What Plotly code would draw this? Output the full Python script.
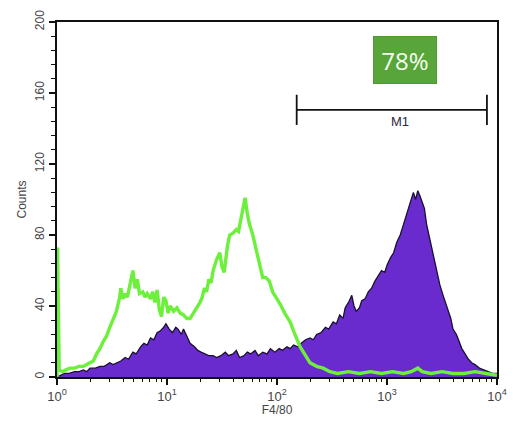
import plotly.graph_objects as go

# F4/80 fluorescence histogram: stained sample (filled) vs. control (line)
# x positions are bin centres in log10(intensity)
stained_log = [0.00, 0.04, 0.07, 0.11, 0.16, 0.20, 0.24, 0.27, 0.30, 0.35, 0.39, 0.43, 0.48, 0.51,
               0.55, 0.58, 0.62, 0.65, 0.69, 0.72, 0.76, 0.79, 0.82, 0.85, 0.88, 0.91, 0.94, 0.97,
               0.99, 1.02, 1.05, 1.08, 1.10, 1.13, 1.15, 1.18, 1.21, 1.25, 1.28, 1.31, 1.35, 1.38,
               1.42, 1.45, 1.49, 1.53, 1.56, 1.60, 1.63, 1.66, 1.70, 1.73, 1.76, 1.80, 1.83, 1.87,
               1.91, 1.94, 1.98, 2.02, 2.05, 2.09, 2.12, 2.15, 2.19, 2.22, 2.26, 2.30, 2.33, 2.36,
               2.40, 2.44, 2.47, 2.51, 2.54, 2.57, 2.60, 2.62, 2.65, 2.68, 2.70, 2.72, 2.75, 2.77,
               2.80, 2.83, 2.86, 2.89, 2.92, 2.95, 2.98, 3.00, 3.03, 3.06, 3.09, 3.12, 3.15, 3.18,
               3.20, 3.22, 3.24, 3.26, 3.28, 3.30, 3.32, 3.34, 3.36, 3.38, 3.41, 3.43, 3.46, 3.48,
               3.51, 3.54, 3.56, 3.58, 3.60, 3.63, 3.65, 3.68, 3.71, 3.74, 3.77, 3.80, 3.84, 3.88,
               3.92, 3.96, 4.00]
stained_counts = [0, 1, 2, 2, 3, 3, 4, 3, 5, 5, 6, 6, 8, 7,
                  8, 9, 11, 10, 14, 13, 17, 19, 18, 22, 21, 25, 26, 28,
                  30, 27, 25, 28, 27, 24, 27, 23, 19, 17, 15, 14, 13, 12,
                  12, 11, 12, 14, 12, 13, 15, 11, 12, 14, 13, 15, 12, 14,
                  13, 16, 14, 16, 15, 17, 16, 18, 17, 19, 21, 22, 21, 24,
                  25, 28, 27, 31, 30, 35, 33, 39, 42, 46, 40, 37, 39, 43,
                  44, 48, 50, 54, 57, 60, 59, 63, 67, 70, 76, 80, 86, 92,
                  97, 101, 104, 100, 105, 102, 99, 95, 86, 80, 71, 65, 58, 52,
                  46, 40, 37, 33, 27, 24, 21, 16, 13, 10, 8, 7, 5, 4,
                  3, 2, 2]

control_log = [0.00, 0.005, 0.02, 0.05, 0.08, 0.12, 0.16, 0.20, 0.24, 0.27, 0.30, 0.33, 0.36, 0.39,
               0.42, 0.45, 0.48, 0.51, 0.54, 0.57, 0.58, 0.60, 0.62, 0.64, 0.66, 0.69, 0.71, 0.73,
               0.75, 0.78, 0.80, 0.82, 0.85, 0.87, 0.89, 0.91, 0.93, 0.95, 0.97, 0.99, 1.01, 1.03,
               1.06, 1.09, 1.12, 1.15, 1.18, 1.21, 1.24, 1.27, 1.30, 1.32, 1.34, 1.36, 1.38, 1.40,
               1.42, 1.45, 1.48, 1.50, 1.52, 1.55, 1.57, 1.60, 1.63, 1.65, 1.67, 1.69, 1.71, 1.73,
               1.75, 1.78, 1.81, 1.84, 1.87, 1.90, 1.93, 1.96, 2.00, 2.03, 2.07, 2.12, 2.15, 2.18,
               2.21, 2.25, 2.30, 2.36, 2.42, 2.48, 2.55, 2.65, 2.75, 2.85, 2.95, 3.05, 3.15, 3.22,
               3.28, 3.32, 3.40, 3.50, 3.60, 3.70, 3.80, 3.90, 4.00]
control_counts = [0, 73, 4, 3, 4, 5, 5, 6, 6, 7, 8, 9, 13, 16,
                  20, 23, 28, 32, 37, 45, 50, 44, 47, 45, 52, 60, 50, 55,
                  47, 48, 45, 47, 44, 48, 42, 49, 38, 34, 45, 43, 36, 40,
                  37, 39, 36, 35, 33, 33, 36, 39, 42, 45, 50, 48, 55, 53,
                  60, 66, 70, 62, 59, 74, 80, 81, 83, 82, 88, 94, 101, 92,
                  86, 80, 72, 62, 56, 56, 54, 48, 44, 41, 36, 31, 26, 22,
                  17, 13, 8, 6, 5, 3, 2, 3, 2, 3, 2, 3, 2, 3,
                  5, 3, 2, 3, 2, 2, 3, 2, 1]

x_tick_vals = [1, 10, 100, 1000, 10000]
x_tick_text = ["10<sup>0</sup>", "10<sup>1</sup>", "10<sup>2</sup>", "10<sup>3</sup>", "10<sup>4</sup>"]
y_tick_vals = [0, 40, 80, 120, 160, 200]

# M1 gate: intensity range and the height it is drawn at
gate_low, gate_high = 151, 8100
gate_level, gate_half = 150.5, 8.5
gate_percent = "78%"

PURPLE = "#6A2BCE"
GREEN = "#6CF03C"
FONT = "Liberation Sans, Arial, sans-serif"

fig = go.Figure()

fig.add_trace(go.Scatter(
    x=[10 ** v for v in stained_log], y=stained_counts,
    mode="lines", fill="tozeroy", fillcolor=PURPLE,
    line=dict(color="#1a1030", width=1.3),
    hoverinfo="skip", showlegend=False,
))

fig.add_trace(go.Scatter(
    x=[10 ** v for v in control_log], y=control_counts,
    mode="lines", line=dict(color=GREEN, width=3.4),
    hoverinfo="skip", showlegend=False,
))

# M1 marker bracket
fig.add_trace(go.Scatter(
    x=[gate_low, gate_high, None, gate_low, gate_low, None, gate_high, gate_high],
    y=[gate_level, gate_level, None, gate_level - gate_half, gate_level + gate_half, None,
       gate_level - gate_half, gate_level + gate_half],
    mode="lines", line=dict(color="#111111", width=1.8),
    hoverinfo="skip", showlegend=False,
))

fig.add_annotation(
    x=(400 - 57) / 440, y=(377 - 122) / 355, xref="paper", yref="paper",
    xanchor="center", yanchor="middle",
    text="M1", showarrow=False, font=dict(family=FONT, size=13, color="#2a2a40"),
)

fig.add_annotation(
    x=(405 - 57) / 440, y=(377 - 60) / 355, xref="paper", yref="paper",
    xanchor="center", yanchor="middle",
    text=gate_percent, showarrow=False,
    font=dict(family="Open Sans, sans-serif", size=24, color="#f4fff0"),
    bgcolor="#58A63A", bordercolor="#4E9A33", borderwidth=1,
    width=60, height=44, borderpad=1,
)

fig.update_layout(
    width=513, height=425,
    margin=dict(l=57, r=16, t=22, b=48, autoexpand=False),
    paper_bgcolor="white", plot_bgcolor="white",
    font=dict(family=FONT, size=12, color="#444444"),
)

fig.update_xaxes(
    type="log", range=[0, 4], automargin=False,
    tickvals=x_tick_vals, ticktext=x_tick_text,
    ticks="outside", ticklen=6, tickwidth=1.5, tickcolor="#111111",
    minor=dict(ticks="outside", ticklen=3, tickwidth=1.2, tickcolor="#111111", dtick="D1"),
    showgrid=False, zeroline=False,
    showline=True, linecolor="#111111", linewidth=1.8, mirror=True,
    tickfont=dict(family=FONT, size=13, color="#444444"),
    title=dict(text="F4/80", font=dict(family=FONT, size=12, color="#444444"), standoff=2),
)

fig.update_yaxes(
    range=[0, 200], automargin=False,
    tickvals=y_tick_vals, tickangle=-90,
    ticks="outside", ticklen=6, tickwidth=1.5, tickcolor="#111111",
    minor=dict(ticks="outside", ticklen=4, tickwidth=1.2, tickcolor="#111111", dtick=8),
    showgrid=False, zeroline=False,
    showline=True, linecolor="#111111", linewidth=1.8, mirror=True,
    tickfont=dict(family=FONT, size=12, color="#444444"),
    title=dict(text="Counts", font=dict(family=FONT, size=12, color="#444444"), standoff=4),
)

fig.write_html("out.html")
